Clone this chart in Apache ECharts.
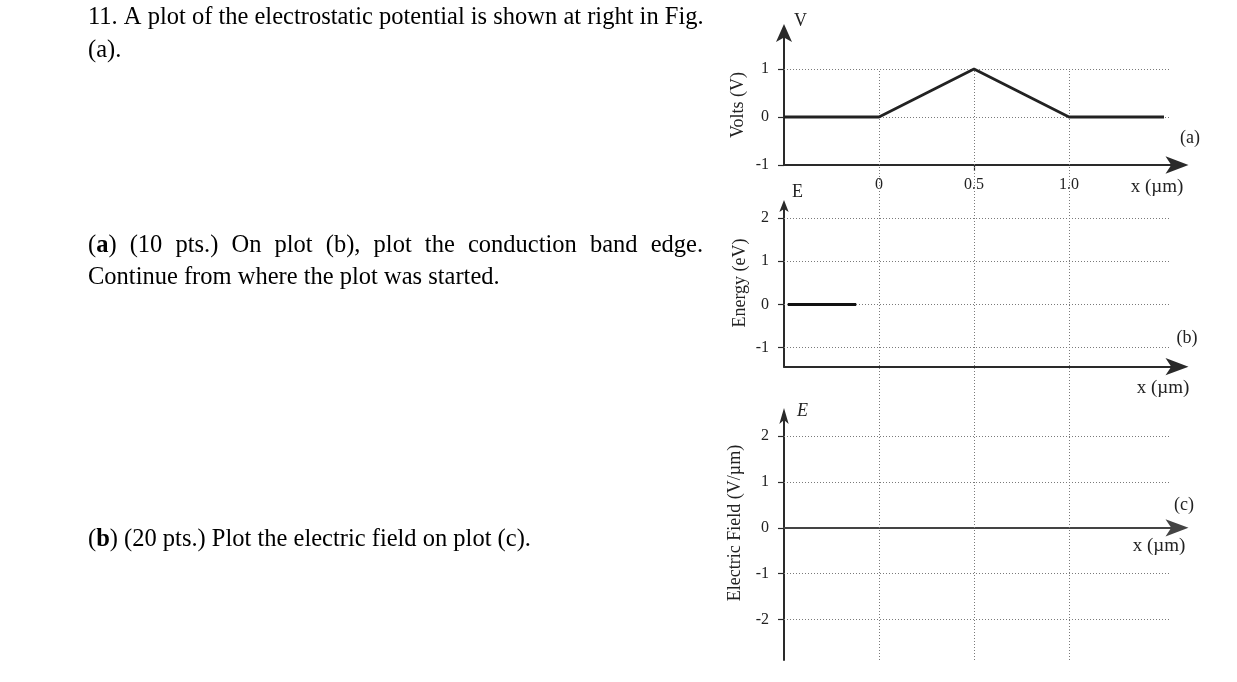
<!DOCTYPE html>
<html><head><meta charset="utf-8">
<script src="https://cdn.jsdelivr.net/npm/echarts/dist/echarts.min.js"></script>
<style>html,body{margin:0;padding:0;background:#fff}#c{width:1237px;height:682px}</style>
</head><body><div id="c"></div>
<script>
// ---------- data ----------
const xTickValues = [0, 0.5, 1.0];
const xTickLabels = ['0', '0.5', '1.0'];
const potentialX = [-0.5, 0, 0.5, 1.0, 1.5];
const potentialV = [0, 0, 1, 0, 0];
const bandX = [-0.48, -0.12];
const bandE = [0, 0];
const voltTicks = [-1, 0, 1];
const energyTicks = [-1, 0, 1, 2];
const fieldTicks = [-2, -1, 0, 1, 2];
const voltGridLines = [0, 1];
const energyGridLines = [-1, 0, 1, 2];
const fieldGridLines = [-2, -1, 1, 2];

// ---------- layout / style ----------
const FONT = '"Liberation Serif", "Times New Roman", serif';
const X_MIN = -0.5, X_MAX = 1.5684, GRID_END = 1.53;
const AXIS_COLOR = '#2a2a2a';

function xAxisFor(gridIndex, extra) {
  return Object.assign({
    type: 'value', gridIndex: gridIndex, min: X_MIN, max: X_MAX,
    splitLine: { show: false },
    axisLine: { show: true, onZero: false, symbol: ['none', 'arrow'], symbolSize: [13, 23], symbolOffset: [0, 11.5],
      lineStyle: { color: AXIS_COLOR, width: 2 } },
    axisTick: { show: false },
    axisLabel: { show: false }
  }, extra || {});
}
function yAxisFor(gridIndex, min, max, ticks, arrowSize, arrowOff) {
  return {
    type: 'value', gridIndex: gridIndex, min: min, max: max,
    splitLine: { show: false },
    axisLine: { show: true, onZero: false, symbol: ['none', 'arrow'], symbolSize: arrowSize, symbolOffset: [0, arrowOff],
      lineStyle: { color: AXIS_COLOR, width: 2 } },
    axisTick: { show: true, customValues: ticks, length: 6, lineStyle: { color: AXIS_COLOR, width: 1.2 } },
    axisLabel: { show: true, customValues: ticks, margin: 15, fontFamily: FONT, fontSize: 16, color: '#222' }
  };
}
function hLines(values) {
  return {
    silent: true, z: 1, symbol: ['none', 'none'], animation: false, label: { show: false },
    lineStyle: { color: '#7a7a7a', width: 1, type: [1, 2] }, emphasis: { disabled: true },
    data: values.map(v => [{ coord: [X_MIN, v] }, { coord: [GRID_END, v] }])
  };
}
const zip = (a, b) => a.map((v, i) => [v, b[i]]);

// ---------- text helpers ----------
const ctx = document.createElement('canvas').getContext('2d');
function parts(word) {
  const out = []; const re = /\{b\|([^}]*)\}/g; let last = 0, m;
  while ((m = re.exec(word))) { if (m.index > last) out.push({ t: word.slice(last, m.index), b: false }); out.push({ t: m[1], b: true }); last = re.lastIndex; }
  if (last < word.length) out.push({ t: word.slice(last), b: false });
  return out;
}
const BODY = 24.5;
function measure(word, size) {
  return parts(word).reduce((w, p) => { ctx.font = (p.b ? 'bold ' : '') + size + 'px ' + FONT; return w + ctx.measureText(p.t).width; }, 0);
}
function bodyText(text, x, y) {
  return { type: 'text', x: x, y: y, silent: true,
    style: { text: text, fontSize: BODY, fontFamily: FONT, fill: '#000', align: 'left', verticalAlign: 'middle',
      rich: { b: { fontSize: BODY, fontFamily: FONT, fontWeight: 'bold', fill: '#000' } } } };
}
function justified(words, x0, x1, y) {
  const widths = words.map(w => measure(w, BODY));
  const gap = (x1 - x0 - widths.reduce((a, b) => a + b, 0)) / (words.length - 1);
  let x = x0; const els = [];
  words.forEach((w, i) => { els.push(bodyText(w, x, y)); x += widths[i] + gap; });
  return els;
}
function chartText(text, x, y, size, opts) {
  opts = opts || {};
  return { type: 'text', x: x, y: y, rotation: opts.rotation || 0, silent: true,
    style: { text: text, fontSize: size, fontFamily: FONT, fontStyle: opts.italic ? 'italic' : 'normal', fill: '#222',
      align: opts.align || 'center', verticalAlign: 'middle' } };
}

const graphics = [
  bodyText('11. A plot of the electrostatic potential is shown at right in Fig.', 88, 18),
  bodyText('(a).', 88, 51),
  ...justified(['({b|a})', '(10', 'pts.)', 'On', 'plot', '(b),', 'plot', 'the', 'conduction', 'band', 'edge.'], 88, 703, 246),
  bodyText('Continue from where the plot was started.', 88, 278),
  bodyText('({b|b}) (20 pts.) Plot the electric field on plot (c).', 88, 540),
  chartText('V', 794, 21, 18, { align: 'left' }),
  chartText('(a)', 1190, 138, 18),
  chartText('x (\u00b5m)', 1157, 187, 19),
  chartText('E', 792, 192, 18, { align: 'left' }),
  chartText('(b)', 1187, 338, 18),
  chartText('x (\u00b5m)', 1163, 388, 19),
  chartText('E', 797, 411, 18, { align: 'left', italic: true }),
  chartText('(c)', 1184, 505, 18),
  chartText('x (\u00b5m)', 1159, 546, 19),
  chartText('Volts (V)', 738, 105, 18, { rotation: Math.PI / 2 }),
  chartText('Energy (eV)', 740, 283, 18, { rotation: Math.PI / 2 }),
  chartText('Electric Field (V/\u00b5m)', 735, 523, 18, { rotation: Math.PI / 2 })
];

const option = {
  animation: false,
  backgroundColor: '#fff',
  grid: [
    { left: 784, top: 33, width: 393, height: 132 },
    { left: 784, top: 205, width: 393, height: 161.7 },
    { left: 784, top: 416, width: 393, height: 244 },
    { left: 784, top: 69, width: 393, height: 591 }
  ],
  xAxis: [
    xAxisFor(0, {
      axisTick: { show: true, customValues: [0.5], length: 6, lineStyle: { color: AXIS_COLOR, width: 1.2 } },
      axisLabel: { show: true, customValues: xTickValues, margin: 12, fontFamily: FONT, fontSize: 16, color: '#222',
        formatter: v => xTickLabels[xTickValues.indexOf(v)] }
    }),
    xAxisFor(1),
    xAxisFor(2, { axisLine: { show: true, onZero: true, symbol: ['none', 'arrow'], symbolSize: [13, 23], symbolOffset: [0, 11.5],
      lineStyle: { color: '#444', width: 2 } } }),
    { type: 'value', gridIndex: 3, min: X_MIN, max: X_MAX, show: false }
  ],
  yAxis: [
    yAxisFor(0, -1, 1.75, voltTicks, [12, 18], 9),
    yAxisFor(1, -1.44, 2.30, energyTicks, [7, 12], 5),
    yAxisFor(2, -2.88, 2.436, fieldTicks, [7, 16], 8),
    { type: 'value', gridIndex: 3, min: 0, max: 1, show: false }
  ],
  series: [
    { type: 'line', xAxisIndex: 3, yAxisIndex: 3, data: [], z: 1, silent: true,
      markLine: { silent: true, z: 1, symbol: ['none', 'none'], animation: false, label: { show: false },
        lineStyle: { color: '#7a7a7a', width: 1, type: [1, 2] }, emphasis: { disabled: true },
        data: xTickValues.map(v => ({ xAxis: v })) } },
    { type: 'line', xAxisIndex: 0, yAxisIndex: 0, data: zip(potentialX, potentialV), showSymbol: false, z: 3, silent: true,
      lineStyle: { color: '#222', width: 2.8 }, markLine: hLines(voltGridLines) },
    { type: 'line', xAxisIndex: 1, yAxisIndex: 1, data: zip(bandX, bandE), showSymbol: false, z: 3, silent: true,
      lineStyle: { color: '#111', width: 3 }, markLine: hLines(energyGridLines) },
    { type: 'line', xAxisIndex: 2, yAxisIndex: 2, data: [], showSymbol: false, z: 3, silent: true,
      markLine: hLines(fieldGridLines) }
  ],
  graphic: graphics
};
const chart = echarts.init(document.getElementById('c'), null, { renderer: 'canvas' });
chart.setOption(option);
</script>
</body></html>
